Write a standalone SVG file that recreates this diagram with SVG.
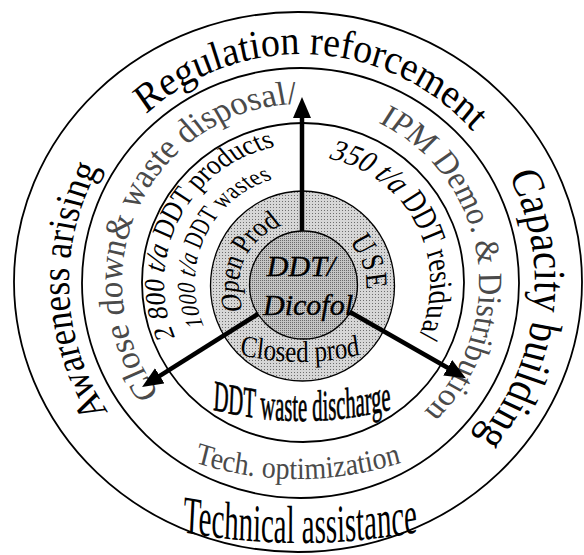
<svg xmlns="http://www.w3.org/2000/svg" width="584" height="555" viewBox="0 0 584 555">
  <style>
    .ring{fill:none;stroke:#000;stroke-width:1.8}
    .t{font-family:"Liberation Serif","Times New Roman",serif;fill:#000}
    .soft{fill:#4a4a4a}
    .it{font-style:italic}
    .heavy{stroke:#000;stroke-width:0.35}
    .shaft{stroke:#000;stroke-width:4.5;fill:none;marker-end:url(#head)}
  </style>
  <defs>
    <pattern id="dotsLight" width="3" height="3" patternUnits="userSpaceOnUse">
      <rect width="3" height="3" fill="#d6d6d6"/>
      <rect width="1" height="1" fill="#6e6e6e"/>
    </pattern>
    <pattern id="dotsDark" width="2" height="2" patternUnits="userSpaceOnUse">
      <rect width="2" height="2" fill="#c4c4c4"/>
      <rect width="1" height="1" fill="#6a6a6a"/>
    </pattern>
    <marker id="head" markerUnits="userSpaceOnUse" markerWidth="22" markerHeight="20" viewBox="0 0 22 20" refX="9" refY="9" orient="auto">
      <path d="M0,0 L21,9 L0,18 Z" fill="#000"/>
    </marker>
    <!-- Side baselines, in a local frame whose +x axis points outward
         through the middle of the label; the group scales x to make the
         letters taller, so each ellipse becomes a circle on screen. -->
    <path id="p-reg" d="M36.8,-225.5 A212,229 0 0,1 36.8,225.5"/>
    <path id="p-cap" d="M35.3,-230.4 A203.5,234 0 0,1 35.3,230.4"/>
    <path id="p-awa" d="M35,-228.5 A201.7,232 0 0,1 35,228.5"/>
    <path id="p-close" d="M28.2,-176.3 A162.7,179 0 0,1 28.2,176.3"/>
    <path id="p-ipm" d="M28.1,-175.3 A161.8,178 0 0,1 28.1,175.3"/>
    <path id="p-prod" d="M20.1,-136.9 A115.8,139 0 0,1 20.1,136.9"/>
    <path id="p-waste" d="M13.4,-106.4 A77.1,108 0 0,1 13.4,106.4"/>
    <path id="p-resid" d="M17,-125.1 A97.7,127 0 0,1 17,125.1"/>
    <path id="p-open" d="M8.5,-63 A49.2,64 0 0,1 8.5,63"/>
    <path id="p-use" d="M8.9,-63 A51.2,64 0 0,1 8.9,63"/>
    <!-- Bottom baselines (local frame, letters face the centre) -->
    <path id="p-tech" d="M-200,-17.2 A1170,1170 0 0,0 200,-17.2"/>
    <path id="p-opt" d="M-150,-32.4 A363,363 0 0,0 150,-32.4"/>
    <path id="p-dis" d="M-130,-11.6 A735,735 0 0,0 130,-11.6"/>
    <path id="p-closed" d="M-100,-17.2 A300,300 0 0,0 100,-17.2"/>
  </defs>

  <rect width="584" height="555" fill="#fff"/>

  <!-- outer ring: policy measures -->
  <g id="ring-outer">
    <ellipse class="ring" cx="298" cy="282" rx="284" ry="270" stroke-width="2"/>
    <g transform="translate(301,283) rotate(-87) scale(1.08,1)">
      <text class="t" font-size="38"><textPath href="#p-reg" startOffset="50%" text-anchor="middle">Regulation reforcement</textPath></text>
    </g>
    <g transform="translate(301,283) rotate(7) scale(1.15,1)">
      <text class="t" font-size="39"><textPath href="#p-cap" startOffset="50%" text-anchor="middle">Capacity building</textPath></text>
    </g>
    <g transform="translate(301,283) rotate(178) scale(1.15,1)">
      <text class="t" font-size="35"><textPath href="#p-awa" startOffset="50%" text-anchor="middle">Awareness arising</textPath></text>
    </g>
    <g transform="translate(300,543) scale(1,1.85)">
      <text class="t" font-size="29"><textPath href="#p-tech" startOffset="50%" text-anchor="middle">Technical assistance</textPath></text>
    </g>
  </g>

  <!-- middle ring: actions -->
  <g id="ring-middle">
    <ellipse class="ring" cx="300.5" cy="283" rx="218.5" ry="215"/>
    <g transform="translate(301,283) rotate(205.5) scale(1.1,1)">
      <text class="t soft" font-size="32.5"><textPath href="#p-close" startOffset="50%" text-anchor="middle">Close down&amp; waste disposal/</textPath></text>
    </g>
    <g transform="translate(301,283) rotate(-9) scale(1.1,1)">
      <text class="t soft" font-size="31"><textPath href="#p-ipm" startOffset="50%" text-anchor="middle">IPM Demo. &amp; Distribution</textPath></text>
    </g>
    <g transform="translate(298,479) scale(1,1.1)">
      <text class="t soft" font-size="28"><textPath href="#p-opt" startOffset="50%" text-anchor="middle">Tech. optimization</textPath></text>
    </g>
  </g>

  <!-- inner ring: quantities -->
  <g id="ring-inner">
    <ellipse class="ring" cx="303" cy="282.5" rx="161" ry="159.5"/>
    <g transform="translate(303,283) rotate(207.6) scale(1.2,1)">
      <text class="t" font-size="25"><textPath href="#p-prod" startOffset="50%" text-anchor="middle">2 800 <tspan class="it">t/a</tspan> DDT products</textPath></text>
    </g>
    <g transform="translate(303,283) rotate(205) scale(1.4,1)">
      <text class="t" font-size="19.5" letter-spacing="0.5"><textPath href="#p-waste" startOffset="50%" text-anchor="middle">1000 <tspan class="it">t/a</tspan> DDT wastes</textPath></text>
    </g>
    <g transform="translate(303,283) rotate(-26.5) scale(1.3,1)">
      <text class="t" font-size="26"><textPath href="#p-resid" startOffset="50%" text-anchor="middle">350 <tspan class="it">t/a</tspan> DDT residua/</textPath></text>
    </g>
    <g transform="translate(302,421) scale(1,2.1)">
      <text class="t heavy" font-size="20.7"><textPath href="#p-dis" startOffset="50%" text-anchor="middle">DDT waste discharge</textPath></text>
    </g>
  </g>

  <!-- shaded ring: life-cycle stages -->
  <g id="core-ring">
    <ellipse cx="302.5" cy="286" rx="92" ry="95" fill="url(#dotsLight)" stroke="#000" stroke-width="1.3"/>
    <g transform="translate(302.5,286) rotate(204) scale(1.3,1)">
      <text class="t" font-size="23.5"><textPath href="#p-open" startOffset="50%" text-anchor="middle">Open Prod</textPath></text>
    </g>
    <g transform="translate(302.5,286) rotate(-19) scale(1.25,1)">
      <text class="t" font-size="25" letter-spacing="2.5"><textPath href="#p-use" startOffset="50%" text-anchor="middle">USE</textPath></text>
    </g>
    <g transform="translate(300,362) scale(1,1.2)">
      <text class="t" font-size="25"><textPath href="#p-closed" startOffset="50%" text-anchor="middle">Closed prod</textPath></text>
    </g>
  </g>

  <!-- core -->
  <g id="core">
    <circle cx="303.5" cy="285" r="54" fill="url(#dotsDark)" stroke="#000" stroke-width="1.3"/>
    <text class="t it heavy" font-size="30" x="301" y="276" text-anchor="middle">DDT/</text>
    <text class="t it heavy" font-size="30" x="308" y="315" text-anchor="middle">Dicofol</text>
  </g>

  <!-- flows out of the core -->
  <g id="arrows">
    <line class="shaft" x1="302" y1="231" x2="302" y2="109"/>
    <line class="shaft" x1="258" y1="314" x2="152.2" y2="380.6"/>
    <line class="shaft" x1="350" y1="312" x2="455.5" y2="372.2"/>
  </g>
</svg>
